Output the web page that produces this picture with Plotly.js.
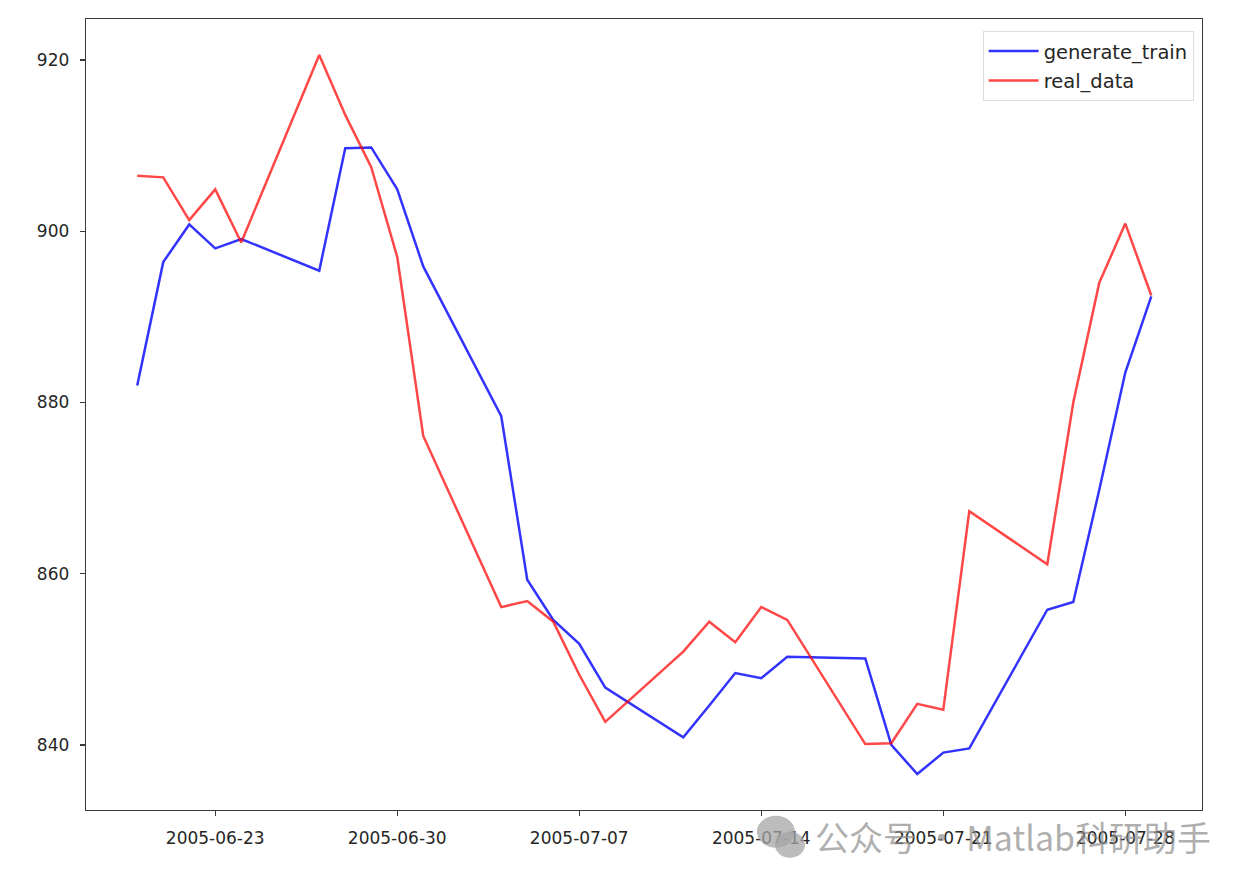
<!DOCTYPE html>
<html>
<head>
<meta charset="utf-8">
<script src="https://cdn.plot.ly/plotly-3.0.1.min.js"></script>
<style>html,body{margin:0;padding:0;background:#fff;}#chart{width:1253px;height:886px;}</style>
</head>
<body>
<div id="chart"></div>
<script>
const dates = ['2005-06-20','2005-06-21','2005-06-22','2005-06-23','2005-06-24',
  '2005-06-27','2005-06-28','2005-06-29','2005-06-30','2005-07-01',
  '2005-07-04','2005-07-05','2005-07-06','2005-07-07','2005-07-08',
  '2005-07-11','2005-07-12','2005-07-13','2005-07-14','2005-07-15',
  '2005-07-18','2005-07-19','2005-07-20','2005-07-21','2005-07-22',
  '2005-07-25','2005-07-26','2005-07-27','2005-07-28','2005-07-29'];
const generateTrain = [882.0, 896.4, 900.8, 898.0, 899.1,
  895.4, 909.7, 909.8, 904.9, 895.9,
  878.4, 859.3, 854.6, 851.8, 846.7,
  840.9, 844.6, 848.4, 847.8, 850.3,
  850.1, 840.0, 836.6, 839.1, 839.6,
  855.8, 856.7, 869.8, 883.5, 892.4];
const realData = [906.5, 906.3, 901.3, 904.9, 898.7,
  920.6, 913.6, 907.5, 897.0, 876.1,
  856.1, 856.8, 854.4, 848.2, 842.7,
  850.9, 854.4, 852.0, 856.1, 854.6,
  840.1, 840.2, 844.8, 844.1, 867.3,
  861.1, 880.0, 894.0, 900.9, 892.5];
const tickDates = ['2005-06-23','2005-06-30','2005-07-07','2005-07-14','2005-07-21','2005-07-28'];
const yTicks = [840, 860, 880, 900, 920];
const watermark = '公众号 · Matlab科研助手';

const traces = [
  {x: dates, y: generateTrain, name: 'generate_train', mode: 'lines', type: 'scatter',
   legendgroup: 'g1', line: {color: 'rgba(0,0,255,0.8)', width: 2.5}},
  {x: dates, y: realData, name: 'real_data', mode: 'lines', type: 'scatter',
   legendgroup: 'g2', line: {color: 'rgba(255,0,0,0.72)', width: 2.5}}
];

const axisCommon = {
  showline: true, mirror: true, linecolor: '#3a3a3a', linewidth: 1.3,
  ticks: 'outside', ticklen: 5, tickwidth: 1.2, tickcolor: '#3a3a3a',
  showgrid: false, zeroline: false,
  tickfont: {family: 'DejaVu Sans', size: 17, color: '#262626'}
};

const layout = {
  width: 1253, height: 886,
  margin: {l: 86, r: 51, t: 19, b: 76},
  paper_bgcolor: '#fff', plot_bgcolor: '#fff',
  showlegend: true,
  legend: {x: 0.9925, xanchor: 'right', y: 0.985, yanchor: 'top',
    bgcolor: 'rgba(255,255,255,0.9)', bordercolor: 'rgba(0,0,0,0.13)', borderwidth: 1,
    font: {family: 'DejaVu Sans', size: 19.5, color: '#262626'},
    traceorder: 'grouped', tracegroupgap: 1, itemwidth: 50},
  xaxis: Object.assign({}, axisCommon, {
    type: 'date', range: ['2005-06-18 00:43', '2005-07-30 22:48'],
    tickmode: 'array', tickvals: tickDates, ticktext: tickDates, ticklabelstandoff: 7
  }),
  yaxis: Object.assign({}, axisCommon, {
    range: [832.4, 924.8], tickmode: 'array', tickvals: yTicks,
    ticktext: yTicks.map(String), ticklabelstandoff: 7
  }),
  shapes: [
    {type: 'circle', xref: 'paper', yref: 'paper', xsizemode: 'pixel', ysizemode: 'pixel',
     xanchor: 0.62, yanchor: -0.03, x0: -21, x1: 17, y0: -14, y1: 18,
     fillcolor: 'rgba(165,165,165,0.75)', line: {width: 0}},
    {type: 'circle', xref: 'paper', yref: 'paper', xsizemode: 'pixel', ysizemode: 'pixel',
     xanchor: 0.62, yanchor: -0.03, x0: -3, x1: 27, y0: -24, y1: 2,
     fillcolor: 'rgba(165,165,165,0.75)', line: {width: 0}}
  ],
  annotations: [{
    xref: 'paper', yref: 'paper', x: 0.831, y: -0.033, xanchor: 'center', yanchor: 'middle',
    text: watermark, showarrow: false,
    font: {family: 'Noto Sans CJK SC', size: 34, color: 'rgba(140,140,140,0.7)'}
  }]
};

Plotly.newPlot('chart', traces, layout, {displayModeBar: false, staticPlot: true});
</script>
</body>
</html>
